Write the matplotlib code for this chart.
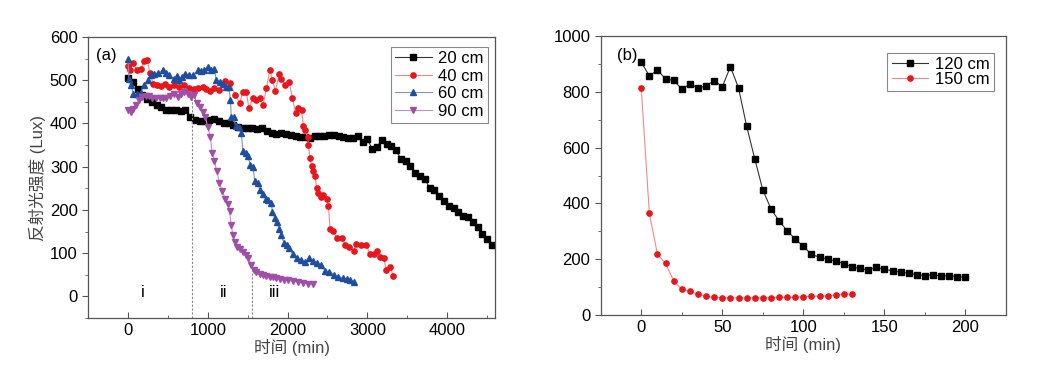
import matplotlib.pyplot as plt
import numpy as np
from matplotlib.ticker import MultipleLocator

plt.rcParams['font.family'] = ['Liberation Sans', 'Noto Sans CJK SC']

# ---- panel (a): reflected light vs time at different depths ----
t20 = np.arange(0, 4561, 60)
y20 = [505, 495, 480, 466, 456, 450, 442, 437, 431, 430, 432, 428, 430, 414, 407,
       405, 405, 408, 410, 406, 402, 402, 397, 392, 390, 389, 389, 388, 389, 383,
       378, 376, 378, 376, 374, 370, 369, 369, 366, 370, 372, 372, 373, 374, 371,
       368, 366, 366, 370, 356, 364, 341, 345, 362, 352, 348, 338, 318, 313, 302,
       285, 279, 272, 250, 247, 232, 221, 208, 204, 195, 187, 183, 172, 160, 145,
       132, 120]

t40 = [0, 21, 67, 109, 160, 202, 244, 273, 315, 370, 412, 466, 517, 580, 643, 706,
       769, 831, 873, 936, 978, 1029, 1084, 1147, 1222, 1281, 1344, 1399, 1441, 1483,
       1516, 1567, 1609, 1651, 1693, 1735, 1777, 1811, 1848, 1895, 1924, 1966, 2021,
       2059, 2101, 2134, 2176, 2197, 2218, 2252, 2260, 2281, 2302, 2323, 2344, 2365,
       2386, 2415, 2449, 2491, 2512, 2533, 2575, 2617, 2680, 2722, 2776, 2827, 2860,
       2923, 2986, 3029, 3079, 3121, 3163, 3205, 3238, 3288, 3322]
y40 = [532, 523, 540, 523, 525, 544, 546, 517, 492, 489, 487, 492, 485, 490, 485, 489,
       481, 479, 483, 485, 479, 476, 481, 477, 498, 494, 466, 447, 473, 473,
       435, 460, 454, 460, 443, 481, 524, 500, 475, 514, 504, 489, 495,
       460, 424, 435, 430, 395, 384, 369, 351, 321, 302, 289, 279, 250,
       240, 229, 235, 225, 210, 155, 151, 135, 135, 120, 115, 105, 121,
       120, 120, 99, 97, 105, 92, 88, 61, 69, 47]

t60 = [0, 13, 42, 67, 118, 160, 202, 252, 286, 328, 378, 433, 475, 517, 571, 613,
       643, 676, 719, 769, 819, 873, 916, 958, 1000, 1042, 1084, 1105, 1155, 1197,
       1231, 1264, 1285, 1294, 1323, 1348, 1390, 1420, 1441, 1474, 1504, 1533, 1567,
       1588, 1630, 1651, 1693, 1726, 1756, 1798, 1810, 1840, 1869, 1894, 1924, 1953,
       1987, 2020, 2062, 2113, 2163, 2218, 2272, 2323, 2373, 2415, 2470, 2524, 2583,
       2638, 2692, 2743, 2785, 2835]
y60 = [550, 504, 489, 468, 468, 471, 489, 500, 511, 515, 517, 523, 517, 511, 504, 509,
       500, 508, 515, 513, 511, 523, 521, 524, 530, 524, 527, 500, 496, 491,
       485, 485, 454, 415, 415, 395, 392, 378, 336, 332, 324, 303, 300,
       267, 263, 247, 237, 225, 223, 216, 195, 181, 173, 156, 141, 124,
       118, 111, 99, 89, 84, 79, 89, 82, 78, 73, 59, 57, 50,
       46, 42, 40, 37, 34]

t90 = [0, 34, 67, 105, 139, 181, 223, 265, 307, 357, 399, 441, 483, 525, 580, 622,
       664, 706, 748, 790, 832, 861, 903, 937, 970, 1000, 1033, 1054, 1084, 1113,
       1147, 1180, 1222, 1252, 1273, 1294, 1315, 1336, 1365, 1399, 1441, 1474, 1504,
       1546, 1575, 1609, 1651, 1693, 1735, 1777, 1819, 1861, 1903, 1953, 2008, 2071,
       2134, 2197, 2260, 2315]
y90 = [431, 427, 433, 443, 454, 462, 464, 463, 460, 458, 458, 460, 458, 464, 469, 462,
       469, 473, 468, 462, 466, 447, 438, 427, 415, 392, 369, 332, 313, 290,
       263, 244, 225, 214, 198, 164, 143, 126, 115, 109, 102, 95, 88,
       73, 61, 56, 51, 50, 47, 46, 44, 42, 40, 38, 37, 35,
       33, 31, 29, 29]

stage_x = [800, 1560]
stage_top = [462, 60]
stage_labels = ['i', 'ii', 'iii']
stage_label_x = [180, 1200, 1840]

# ---- panel (b) ----
tb = np.arange(0, 201, 5)
y120 = [906, 857, 878, 846, 841, 810, 828, 814, 821, 840, 818, 890, 814, 677, 560,
        448, 381, 337, 302, 272, 246, 217, 207, 200, 194, 184, 172, 167, 161, 171,
        164, 158, 154, 149, 145, 141, 145, 139, 141, 137, 135]
y150 = [812, 364, 217, 185, 122, 92, 85, 74, 68, 63, 62, 61, 61, 61, 61, 62, 62,
        63, 63, 64, 66, 67, 68, 69, 72, 74, 76]

fig = plt.figure(figsize=(10.37, 3.78), dpi=100)
ax1 = fig.add_axes([0.0849, 0.1587, 0.3925, 0.7434])
ax2 = fig.add_axes([0.5793, 0.1667, 0.3908, 0.738])

spine_c = '#555555'
text_c = '#444444'
fs = 12

def style(ax):
    for s in ax.spines.values():
        s.set_color(spine_c)
        s.set_linewidth(0.9)
    ax.tick_params(axis='both', which='both', colors=spine_c, labelcolor='black',
                   labelsize=fs, top=False, right=False)
    ax.tick_params(axis='y', which='major', direction='out', length=4)
    ax.tick_params(axis='y', which='minor', direction='out', length=2.5)
    ax.tick_params(axis='x', which='major', direction='in', length=4)
    ax.tick_params(axis='x', which='minor', direction='in', length=2.5)

series_a = [
    (t20, y20, '20 cm', 's', '#000000', '#333333'),
    (t40, y40, '40 cm', 'o', '#e8151b', '#f08a8c'),
    (t60, y60, '60 cm', '^', '#1f4e9e', '#7d96c4'),
    (t90, y90, '90 cm', 'v', '#a04fa6', '#c890cb'),
]
for x, y, lab, m, mc, lc in series_a:
    ax1.plot(x, y, '-', marker=m, color=lc, mfc=mc, mec=mc, lw=0.8, ms=3.8, label=lab)

for sx, st in zip(stage_x, stage_top):
    ax1.plot([sx, sx], [-50, st], ls=(0, (2, 1.5)), color='#888888', lw=0.8)
for lab, lx in zip(stage_labels, stage_label_x):
    ax1.text(lx, 8, lab, ha='center', va='center', fontsize=fs)

ax1.set_xlim(-500, 4600)
ax1.set_ylim(-50, 600)
ax1.xaxis.set_major_locator(MultipleLocator(1000))
ax1.xaxis.set_minor_locator(MultipleLocator(500))
ax1.yaxis.set_major_locator(MultipleLocator(100))
ax1.yaxis.set_minor_locator(MultipleLocator(50))
style(ax1)
ax1.set_xlabel('时间 (min)', fontsize=fs, color=text_c, labelpad=1)
ax1.set_ylabel('反射光强度 (Lux)', fontsize=fs, color=text_c, labelpad=3)
ax1.text(0.02, 0.935, '(a)', transform=ax1.transAxes, fontsize=fs, va='center')
leg = ax1.legend(loc='upper right', bbox_to_anchor=(0.983, 0.964), borderaxespad=0,
                 fontsize=fs, fancybox=False, edgecolor='#888888', framealpha=1,
                 handlelength=2.2, labelspacing=0.15, borderpad=0.25, handletextpad=0.4)
leg.get_frame().set_linewidth(0.8)

series_b = [
    (tb, y120, '120 cm', 's', '#000000', '#333333'),
    (tb[:len(y150)], y150, '150 cm', 'o', '#e8151b', '#f08a8c'),
]
for x, y, lab, m, mc, lc in series_b:
    ax2.plot(x, y, '-', marker=m, color=lc, mfc=mc, mec=mc, lw=0.8, ms=3.8, label=lab)

ax2.set_xlim(-25, 225)
ax2.set_ylim(0, 1000)
ax2.xaxis.set_major_locator(MultipleLocator(50))
ax2.xaxis.set_minor_locator(MultipleLocator(25))
ax2.yaxis.set_major_locator(MultipleLocator(200))
ax2.yaxis.set_minor_locator(MultipleLocator(100))
style(ax2)
ax2.set_xlabel('时间 (min)', fontsize=fs, color=text_c, labelpad=1)
ax2.text(0.04, 0.93, '(b)', transform=ax2.transAxes, fontsize=fs, va='center')
leg = ax2.legend(loc='upper right', bbox_to_anchor=(0.97, 0.939), borderaxespad=0,
                 fontsize=fs, fancybox=False, edgecolor='#888888', framealpha=1,
                 handlelength=2.2, labelspacing=0.0, borderpad=0.25, handletextpad=0.4)
leg.get_frame().set_linewidth(0.8)

plt.savefig('out.png', dpi=100)
